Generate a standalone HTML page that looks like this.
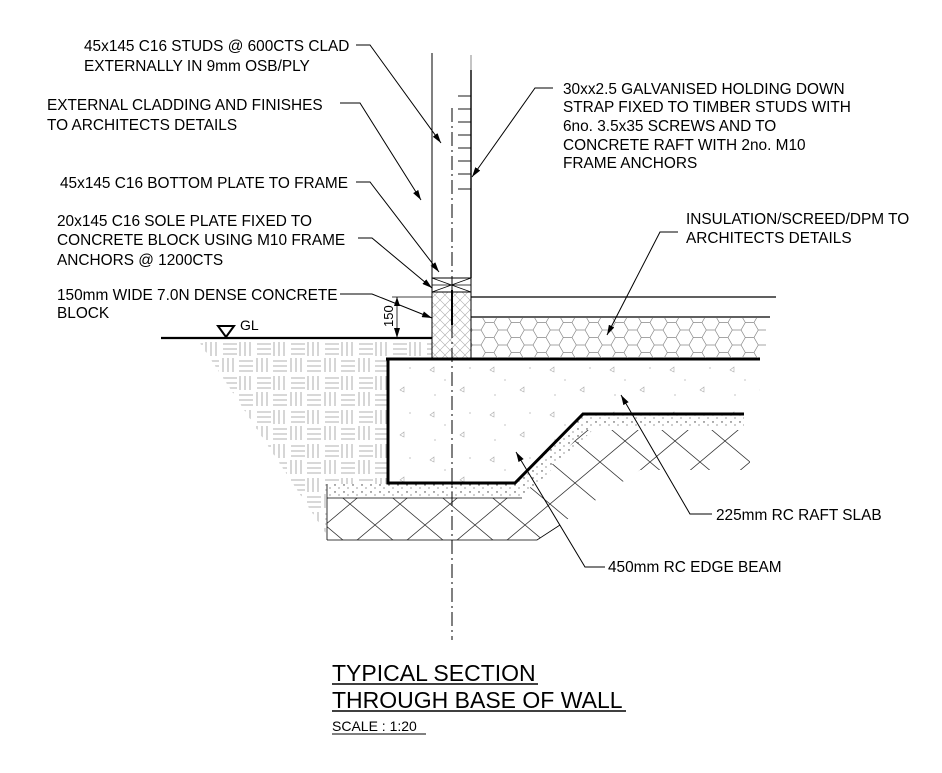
<!DOCTYPE html>
<html><head><meta charset="utf-8"><style>
html,body{margin:0;padding:0;background:#fff;}
svg{display:block;}
text{font-family:"Liberation Sans",sans-serif;fill:#000;}
</style></head><body>
<svg width="942" height="773" viewBox="0 0 942 773" xmlns="http://www.w3.org/2000/svg">
<defs>
<pattern id="soil" width="34" height="34" patternUnits="userSpaceOnUse">
<g stroke="#999" stroke-width="0.8" fill="none">
<path d="M2 2v14M7 2v14M12 2v14"/>
<path d="M19 4h14M19 9h14M19 14h14"/>
<path d="M1 21h14M1 26h14M1 31h14"/>
<path d="M19 18v14M24 18v14M29 18v14"/>
</g></pattern>
<pattern id="hex" width="26" height="15" patternUnits="userSpaceOnUse">
<path d="M0 7.5l4.3-7.5h8.7l4.3 7.5l-4.3 7.5h-8.7z M17.3 7.5h8.7" stroke="#888" stroke-width="0.7" fill="none"/>
</pattern>
<pattern id="block" width="10" height="10" patternUnits="userSpaceOnUse">
<path d="M0 0L10 10M10 0L0 10" stroke="#aaa" stroke-width="0.6"/>
</pattern>
<pattern id="core" width="50" height="42" patternUnits="userSpaceOnUse">
<path d="M0 0L50 42M50 0L0 42" stroke="#333" stroke-width="0.8"/>
</pattern>
<pattern id="dots" width="9" height="7" patternUnits="userSpaceOnUse">
<circle cx="2" cy="2" r="0.7" fill="#333"/><circle cx="6" cy="5" r="0.6" fill="#555"/>
</pattern>
<pattern id="conc" width="60" height="45" patternUnits="userSpaceOnUse">
<path d="M10 10l4-3 0 5z M40 30l4-3 0 5z" stroke="#aaa" stroke-width="0.6" fill="none"/>
<circle cx="25" cy="20" r="0.6" fill="#999"/><circle cx="50" cy="8" r="0.6" fill="#999"/><circle cx="15" cy="35" r="0.6" fill="#999"/>
</pattern>
<marker id="ar" markerWidth="10" markerHeight="6" refX="10" refY="3" orient="auto" markerUnits="userSpaceOnUse"><path d="M0 0L10 3L0 6z" fill="#000"/></marker>
</defs>

<!-- soil -->
<polygon points="198,340 432,340 432,359 388,359 388,484 327,484 327,535" fill="url(#soil)"/>
<line x1="161" y1="338" x2="432" y2="338" stroke="#000" stroke-width="2.2"/>
<path d="M218 326h16l-8 11z" fill="none" stroke="#000" stroke-width="2"/>
<text x="240" y="330" font-size="14">GL</text>

<!-- concrete beam/slab -->
<path d="M388 359H760V414H583L515 483H388z" fill="url(#conc)"/>
<!-- hardcore -->
<path d="M327 498H520L585 430H750V470L640 470L537 540H327z" fill="url(#core)"/>
<path d="M327 540H537L560 525" fill="none" stroke="#000" stroke-width="0.8"/>
<path d="M327 484H515L583 414H744V428H595L522 498H327z" fill="url(#dots)"/>
<line x1="327" y1="498" x2="522" y2="498" stroke="#000" stroke-width="0.8"/>
<line x1="327" y1="484" x2="327" y2="540" stroke="#000" stroke-width="0.8"/>
<path d="M388 359V483H515L583 414H744" fill="none" stroke="#000" stroke-width="3"/>
<line x1="386" y1="359" x2="760" y2="359" stroke="#000" stroke-width="3"/>

<!-- insulation -->
<rect x="471" y="318" width="295" height="40" fill="url(#hex)"/>
<line x1="471" y1="297" x2="776" y2="297" stroke="#000" stroke-width="1.2"/>
<line x1="471" y1="317" x2="770" y2="317" stroke="#000" stroke-width="1.2"/>

<!-- block -->
<rect x="432" y="292" width="39" height="66" fill="url(#block)" stroke="#000" stroke-width="1"/>
<rect x="432" y="278" width="39" height="14" fill="#fff" stroke="#000" stroke-width="1"/>
<path d="M432 278L471 292M471 278L432 292" stroke="#000" stroke-width="0.7"/>
<line x1="432" y1="285" x2="471" y2="285" stroke="#000" stroke-width="0.7"/>
<line x1="452" y1="290" x2="452" y2="325" stroke="#000" stroke-width="2"/>

<!-- wall -->
<line x1="432" y1="53" x2="432" y2="278" stroke="#000" stroke-width="1"/>
<line x1="471" y1="55" x2="471" y2="70" stroke="#888" stroke-width="1"/>
<line x1="471" y1="70" x2="471" y2="278" stroke="#000" stroke-width="1.4"/>
<g stroke="#000" stroke-width="0.9">
<line x1="458" y1="96" x2="471" y2="96"/><line x1="458" y1="109" x2="471" y2="109"/><line x1="458" y1="122" x2="471" y2="122"/><line x1="458" y1="135" x2="471" y2="135"/><line x1="458" y1="148" x2="471" y2="148"/><line x1="458" y1="161" x2="471" y2="161"/><line x1="458" y1="174" x2="471" y2="174"/><line x1="458" y1="189" x2="471" y2="189"/>
</g>
<line x1="452" y1="108" x2="452" y2="640" stroke="#000" stroke-width="1" stroke-dasharray="14,4,2,4"/>

<!-- dimension -->
<line x1="392" y1="297" x2="432" y2="297" stroke="#000" stroke-width="0.8"/>
<line x1="397" y1="297" x2="397" y2="338" stroke="#000" stroke-width="0.8" marker-end="url(#ar)"/>
<path d="M394 306l3-9 3 9z" fill="#000"/>
<text transform="translate(393,327) rotate(-90)" font-size="13">150</text>

<!-- leaders -->
<g stroke="#000" stroke-width="1" fill="none" marker-end="url(#ar)">
<path d="M356 45H370L441 143"/>
<path d="M340 103H360L421 200"/>
<path d="M356 182H370L439 272"/>
<path d="M358 238H372L432 288"/>
<path d="M340 294H372L432 318"/>
<path d="M553 88H535L472 177"/>
<path d="M678 232H660L607 335"/>
<path d="M712 514H690L621 395"/>
<path d="M605 567H585L516 452"/>
</g>

<g font-size="15.4">
<text x="84" y="51">45x145 C16 STUDS @ 600CTS CLAD</text>
<text x="84" y="71">EXTERNALLY IN 9mm OSB/PLY</text>
<text x="47" y="110">EXTERNAL CLADDING AND FINISHES</text>
<text x="47" y="130">TO ARCHITECTS DETAILS</text>
<text x="60" y="188">45x145 C16 BOTTOM PLATE TO FRAME</text>
<text x="57" y="226">20x145 C16 SOLE PLATE FIXED TO</text>
<text x="57" y="245">CONCRETE BLOCK USING M10 FRAME</text>
<text x="57" y="265">ANCHORS @ 1200CTS</text>
<text x="57" y="300">150mm WIDE 7.0N DENSE CONCRETE</text>
<text x="57" y="318">BLOCK</text>
<text x="563" y="94">30xx2.5 GALVANISED HOLDING DOWN</text>
<text x="563" y="112">STRAP FIXED TO TIMBER STUDS WITH</text>
<text x="563" y="131">6no. 3.5x35 SCREWS AND TO</text>
<text x="563" y="150">CONCRETE RAFT WITH 2no. M10</text>
<text x="563" y="168">FRAME ANCHORS</text>
<text x="686" y="224">INSULATION/SCREED/DPM TO</text>
<text x="686" y="243">ARCHITECTS DETAILS</text>
<text x="716" y="520">225mm RC RAFT SLAB</text>
<text x="608" y="572">450mm RC EDGE BEAM</text>
</g>

<text x="332" y="681" font-size="23">TYPICAL SECTION</text>
<line x1="332" y1="684" x2="538" y2="684" stroke="#000" stroke-width="1.5"/>
<text x="332" y="708" font-size="23">THROUGH BASE OF WALL</text>
<line x1="332" y1="711" x2="626" y2="711" stroke="#000" stroke-width="1.5"/>
<text x="332" y="731" font-size="14">SCALE : 1:20</text>
<line x1="332" y1="734" x2="426" y2="734" stroke="#000" stroke-width="1"/>
</svg>
</body></html>
